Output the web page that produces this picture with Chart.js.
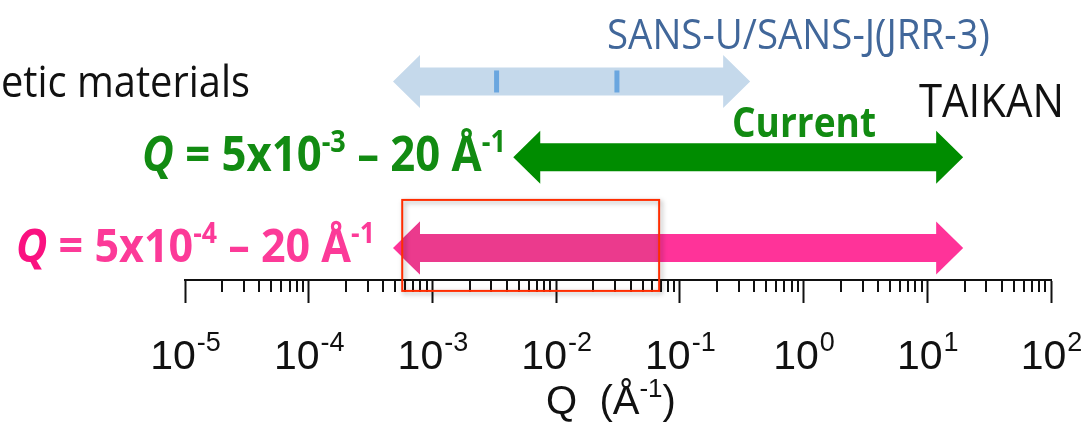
<!DOCTYPE html>
<html>
<head>
<meta charset="utf-8">
<script src="https://cdn.jsdelivr.net/npm/chart.js@4.4.1/dist/chart.umd.min.js"></script>
<style>
  html, body { margin: 0; padding: 0; background: #fff; }
  canvas { display: block; }
</style>
</head>
<body>
<canvas id="qRange" width="1084" height="432"></canvas>
<script>
// Q ranges covered by each instrument (Å^-1)
const instruments = ["SANS-U/SANS-J (JRR-3)", "TAIKAN current", "TAIKAN upgrade"];
const qMin = [4.8e-4, 4.5e-3, 4.8e-4];
const qMax = [0.37, 19.5, 19.5];
const rowLevel = [7.09, 4.38, 1.14];
const arrowColors = ["#c5d9eb", "#008c00", "#ff3399"];

// marks inside the SANS-U/SANS-J arrow
const sansMarks = [3.3e-3, 0.031];

// highlighted box (Q range and row levels)
const boxQ = [5.7e-4, 0.068];
const boxLevel = [2.86, -0.39];

// axis ticks
const decadeExponents = [-5, -4, -3, -2, -1, 0, 1, 2];
const minorSteps = [2, 3, 4, 5, 6, 7, 8, 9];

const tickList = [];
decadeExponents.forEach((e, i) => {
  tickList.push({ value: Math.pow(10, e), major: true, exp: e });
  if (i < decadeExponents.length - 1) {
    minorSteps.forEach((m) => tickList.push({ value: m * Math.pow(10, e), major: false }));
  }
});

const LABEL_FONT = '"Liberation Sans", Arial, sans-serif';

/**
 * font string for a text segment
 */
function segFont(seg, size) {
  const s = seg.sup ? size * 0.62 : size;
  return `${seg.italic ? "italic " : ""}${seg.bold ? "bold " : ""}${s.toFixed(2)}px ${seg.family || '"Open Sans"'}`;
}

function measureRich(ctx, segs, size) {
  let w = 0;
  segs.forEach((seg) => {
    ctx.font = segFont(seg, size);
    w += ctx.measureText(seg.text).width;
  });
  return w;
}

/**
 * draw a run of text segments fitted to a given width
 */
function drawRich(ctx, segs, left, baseline, width, color, ky) {
  const size = (100 * width) / measureRich(ctx, segs, 100);
  ctx.save();
  ctx.translate(left, baseline);
  ctx.scale(1, ky || 1);
  ctx.textAlign = "left";
  ctx.textBaseline = "alphabetic";
  let x = 0;
  segs.forEach((seg) => {
    ctx.font = segFont(seg, size);
    ctx.fillStyle = seg.color || color;
    ctx.fillText(seg.text, x, seg.sup ? -size * 0.4 : 0);
    x += ctx.measureText(seg.text).width;
  });
  ctx.restore();
}

function arrowPath(ctx, x1, x2, y) {
  const sh = 14, hh = 26.5, hl = 27;
  ctx.beginPath();
  ctx.moveTo(x1, y);
  ctx.lineTo(x1 + hl, y - hh);
  ctx.lineTo(x1 + hl, y - sh);
  ctx.lineTo(x2 - hl, y - sh);
  ctx.lineTo(x2 - hl, y - hh);
  ctx.lineTo(x2, y);
  ctx.lineTo(x2 - hl, y + hh);
  ctx.lineTo(x2 - hl, y + sh);
  ctx.lineTo(x1 + hl, y + sh);
  ctx.lineTo(x1 + hl, y + hh);
  ctx.closePath();
}

const rangePlugin = {
  id: "rangeArrows",
  beforeDatasetsDraw(chart) {
    // minor ticks, shorter than the major ones drawn by the grid
    const ctx = chart.ctx;
    const xs = chart.scales.x;
    const top = chart.chartArea.bottom;
    ctx.save();
    ctx.strokeStyle = "#111";
    ctx.lineWidth = 2;
    xs.ticks.forEach((t) => {
      if (t.major) return;
      const px = Math.round(xs.getPixelForValue(t.value));
      ctx.beginPath();
      ctx.moveTo(px, top);
      ctx.lineTo(px, top + 12);
      ctx.stroke();
    });
    ctx.restore();
  },
  afterDatasetsDraw(chart) {
    const ctx = chart.ctx;
    const xs = chart.scales.x;
    const ys = chart.scales.y;
    ctx.save();
    chart.data.datasets.forEach((ds, i) => {
      const pts = chart.getDatasetMeta(i).data;
      arrowPath(ctx, pts[0].x, pts[1].x, pts[0].y);
      ctx.fillStyle = ds.arrowColor;
      ctx.fill();
    });
    // marks inside the SANS arrow
    const yBlue = ys.getPixelForValue(rowLevel[0]);
    ctx.fillStyle = "#6aa6df";
    sansMarks.forEach((q) => {
      const px = xs.getPixelForValue(q);
      ctx.fillRect(px - 2.5, yBlue - 11, 5, 22);
    });

    // highlighted box
    const bx1 = xs.getPixelForValue(boxQ[0]);
    const bx2 = xs.getPixelForValue(boxQ[1]);
    const by1 = ys.getPixelForValue(boxLevel[0]);
    const by2 = ys.getPixelForValue(boxLevel[1]);
    const pink = chart.getDatasetMeta(2).data;
    ctx.save();
    ctx.beginPath();
    ctx.rect(bx1, by1, bx2 - bx1, by2 - by1);
    ctx.clip();
    arrowPath(ctx, pink[0].x, pink[1].x, pink[0].y);
    ctx.fillStyle = "#eb3a8d";
    ctx.fill();
    ctx.restore();

    ctx.shadowColor = "rgba(0,0,0,0.35)";
    ctx.shadowBlur = 5;
    ctx.shadowOffsetX = 2;
    ctx.shadowOffsetY = 2;
    ctx.strokeStyle = "#ff2d00";
    ctx.lineWidth = 2;
    ctx.strokeRect(bx1, by1, bx2 - bx1, by2 - by1);
    ctx.restore();
  },
  afterDraw(chart) {
    const ctx = chart.ctx;
    const xs = chart.scales.x;

    // decade labels 10^n
    ctx.save();
    ctx.fillStyle = "#111";
    ctx.textBaseline = "alphabetic";
    xs.ticks.forEach((t) => {
      if (!t.major) return;
      const base = "10";
      const sup = String(t.exp);
      ctx.font = `41px ${LABEL_FONT}`;
      const wb = ctx.measureText(base).width;
      ctx.font = `27px ${LABEL_FONT}`;
      const ws = ctx.measureText(sup).width;
      const px = xs.getPixelForValue(t.value);
      const left = px - (wb + ws) / 2;
      ctx.font = `41px ${LABEL_FONT}`;
      ctx.fillText(base, left, 369);
      ctx.font = `27px ${LABEL_FONT}`;
      ctx.fillText(sup, left + wb + 1, 351);
    });

    // axis title
    ctx.font = `40px ${LABEL_FONT}`;
    const t1 = "Q  (Å";
    const w1 = ctx.measureText(t1).width;
    ctx.font = `26px ${LABEL_FONT}`;
    const w2 = ctx.measureText("-1").width;
    ctx.font = `40px ${LABEL_FONT}`;
    const w3 = ctx.measureText(")").width;
    const cx = 611;
    const lx = cx - (w1 + w2 + w3) / 2;
    ctx.fillText(t1, lx, 414);
    ctx.font = `26px ${LABEL_FONT}`;
    ctx.fillText("-1", lx + w1, 397);
    ctx.font = `40px ${LABEL_FONT}`;
    ctx.fillText(")", lx + w1 + w2, 414);
    ctx.restore();

    // annotations
    drawRich(ctx, [{ text: "etic materials" }], 1, 97, 249, "#111", 1.1);
    drawRich(ctx, [{ text: "SANS-U/SANS-J(JRR-3)" }], 607, 49, 383, "#41679a", 1.1);
    drawRich(ctx, [{ text: "TAIKAN" }], 919, 117, 145, "#111", 1.1);
    drawRich(ctx, [{ text: "Current", bold: true }], 732, 137, 144, "#128b12", 1.1);
    drawRich(
      ctx,
      [
        { text: "Q", bold: true, italic: true },
        { text: " = 5x10", bold: true },
        { text: "-3", bold: true, sup: true },
        { text: " – 20 Å", bold: true },
        { text: "-1", bold: true, sup: true },
      ],
      142, 171, 364, "#128b12", 1.1
    );
    drawRich(
      ctx,
      [
        { text: "Q", bold: true, italic: true, color: "#fa1180" },
        { text: " = 5x10", bold: true },
        { text: "-4", bold: true, sup: true },
        { text: " – 20 Å", bold: true },
        { text: "-1", bold: true, sup: true },
      ],
      16, 262, 359, "#fc3a98", 1.1
    );
  },
};

new Chart(document.getElementById("qRange"), {
  type: "line",
  data: {
    datasets: instruments.map((name, i) => ({
      label: name,
      data: [
        { x: qMin[i], y: rowLevel[i] },
        { x: qMax[i], y: rowLevel[i] },
      ],
      showLine: false,
      pointRadius: 0,
      arrowColor: arrowColors[i],
    })),
  },
  options: {
    responsive: false,
    animation: false,
    layout: { padding: { left: 185, right: 33, top: 0, bottom: 0 } },
    plugins: { legend: { display: false }, tooltip: { enabled: false } },
    scales: {
      x: {
        type: "logarithmic",
        position: "bottom",
        min: 1e-5,
        max: 100,
        afterBuildTicks: (scale) => {
          scale.ticks = tickList.map((t) => ({ ...t }));
        },
        afterFit: (scale) => {
          scale.height = 152;
        },
        ticks: { display: false },
        grid: {
          drawOnChartArea: false,
          drawTicks: true,
          tickLength: 23,
          tickWidth: 2,
          tickColor: (ctx) => (ctx.tick && ctx.tick.major ? "#111" : "rgba(0,0,0,0)"),
        },
        border: { display: true, color: "#111", width: 2 },
      },
      y: { display: false, min: 0, max: 10 },
    },
  },
  plugins: [rangePlugin],
});
</script>
</body>
</html>
